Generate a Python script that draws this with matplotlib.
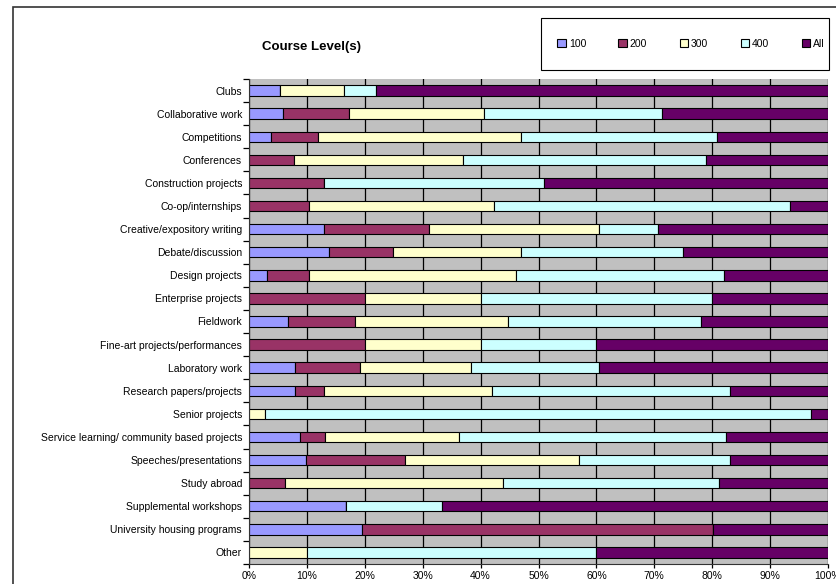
import numpy as np
import matplotlib.pyplot as plt
from matplotlib.patches import Rectangle

plt.rcParams['font.family'] = ['Liberation Sans', 'DejaVu Sans']

activities = ['Clubs', 'Collaborative work', 'Competitions', 'Conferences',
              'Construction projects', 'Co-op/internships',
              'Creative/expository writing', 'Debate/discussion',
              'Design projects', 'Enterprise projects', 'Fieldwork',
              'Fine-art projects/performances', 'Laboratory work',
              'Research papers/projects', 'Senior projects',
              'Service learning/ community based projects',
              'Speeches/presentations', 'Study abroad',
              'Supplemental workshops', 'University housing programs', 'Other']

levels = ['100', '200', '300', '400', 'All']

# percent share of each course level per activity
lvl_100 = [5.4, 5.9, 3.8, 0, 0, 0, 13.0, 13.9, 3.1, 0, 6.8,
           0, 8.0, 7.9, 0, 8.8, 9.9, 0, 16.7, 19.6, 0]
lvl_200 = [0, 11.3, 8.1, 7.8, 12.9, 10.4, 18.1, 10.9, 7.3, 20.0, 11.5,
           20.0, 11.1, 5.0, 0, 4.3, 17.0, 6.2, 0, 60.6, 0]
lvl_300 = [11.0, 23.4, 35.0, 29.1, 0, 32.0, 29.4, 22.1, 35.8, 20.0, 26.5,
           20.0, 19.2, 29.0, 2.8, 23.1, 30.1, 37.6, 0, 0, 10.0]
lvl_400 = [5.6, 30.7, 34.0, 42.0, 38.0, 51.1, 10.1, 28.1, 35.9, 40.0, 33.3,
           20.0, 22.2, 41.1, 94.2, 46.1, 26.0, 37.3, 16.6, 0, 50.0]
lvl_all = [78.0, 28.7, 19.1, 21.1, 49.1, 6.5, 29.4, 25.0, 17.9, 20.0, 21.9,
           40.0, 39.5, 17.0, 3.0, 17.7, 17.0, 18.9, 66.7, 19.8, 40.0]

colors = ['#9999FF', '#993366', '#FFFFCC', '#CCFFFF', '#660066']

W, H = 836, 584
fig = plt.figure(figsize=(W / 100, H / 100), dpi=100)
fig.patch.set_facecolor('white')

# outer chart frame (runs off the right and bottom edges)
fig.patches.append(Rectangle((13 / W, -0.2), 1.2, 1 - 7 / H + 0.2,
                             transform=fig.transFigure, fill=False,
                             edgecolor='#333333', linewidth=1.2))

ax = fig.add_axes([249 / W, 1 - 564 / H, (828 - 249) / W, (564 - 79) / H])
ax.set_facecolor('#C0C0C0')

y = np.arange(len(activities))
left = np.zeros(len(activities))
for vals, name, c in zip([lvl_100, lvl_200, lvl_300, lvl_400, lvl_all], levels, colors):
    vals = np.array(vals)
    ax.barh(y, vals, left=left, height=0.45, color=c, edgecolor='black',
            linewidth=0.8, label=name, zorder=3)
    left += vals

ax.set_ylim(len(activities) - 0.5, -0.5)
ax.set_xlim(0, 100)
ax.set_xticks(np.arange(0, 101, 10))
ax.set_xticklabels([f'{v}%' for v in range(0, 101, 10)], fontsize=7.5)
ax.xaxis.grid(True, color='black', linewidth=0.9, zorder=1)
ax.set_axisbelow(True)

ax.set_yticks(y)
ax.set_yticklabels(activities, fontsize=7.5)
ax.set_yticks(np.arange(-0.5, len(activities), 1), minor=True)
ax.tick_params(axis='y', which='major', length=0, pad=5)
ax.tick_params(axis='y', which='minor', length=4, width=0.9, direction='out')
ax.tick_params(axis='x', length=3, width=0.9, direction='out', pad=2)

for s in ['top', 'right']:
    ax.spines[s].set_visible(False)
ax.spines['left'].set_color('#333333')
ax.spines['bottom'].set_color('#333333')
ax.spines['left'].set_zorder(4)

fig.text(312 / W, 1 - 47 / H, 'Course Level(s)', ha='center', va='center',
         fontsize=9.5, fontweight='bold')

# legend box drawn separately so its size can be set directly
lx0, lx1, ly0, ly1 = 541, 829, 18, 70
fig.patches.append(Rectangle((lx0 / W, 1 - ly1 / H), (lx1 - lx0) / W, (ly1 - ly0) / H,
                             transform=fig.transFigure, facecolor='white',
                             edgecolor='black', linewidth=0.8, zorder=5))
leg = fig.legend(loc='center', bbox_to_anchor=((lx0 + lx1) / 2 / W + 6 / W,
                                               1 - (ly0 + ly1) / 2 / H),
                 ncol=5, fontsize=7.5, frameon=False,
                 handlelength=0.8, handleheight=0.8,
                 handletextpad=0.3, columnspacing=3.1, borderaxespad=0)
leg.set_zorder(6)

fig.savefig('out.png', dpi=100)
